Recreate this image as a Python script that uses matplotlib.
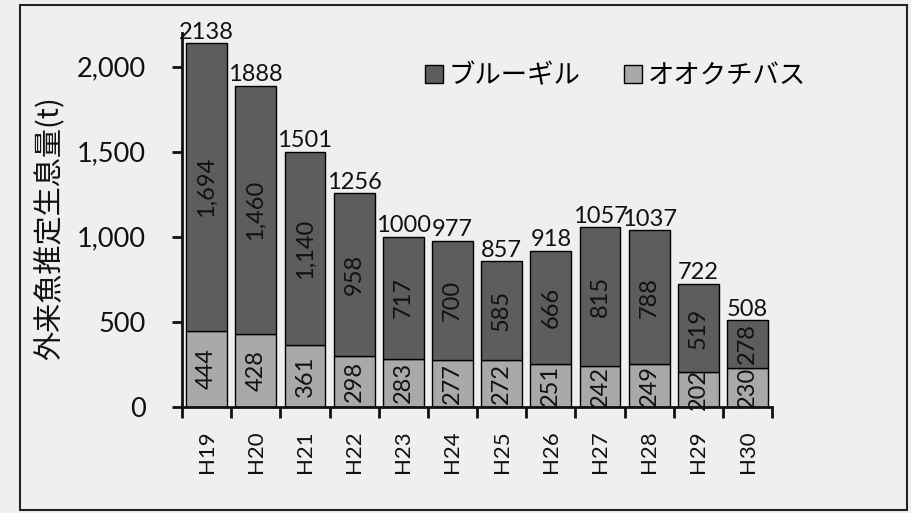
import numpy as np
import matplotlib.pyplot as plt
from matplotlib.patches import Rectangle
from matplotlib.lines import Line2D

plt.rcParams['font.family'] = ['Lato', 'Noto Sans CJK JP', 'DejaVu Sans']

# data
years = ['H19', 'H20', 'H21', 'H22', 'H23', 'H24', 'H25', 'H26', 'H27', 'H28', 'H29', 'H30']
bluegill = [1694, 1460, 1140, 958, 717, 700, 585, 666, 815, 788, 519, 278]
largemouth = [444, 428, 361, 298, 283, 277, 272, 251, 242, 249, 202, 230]
totals = [2138, 1888, 1501, 1256, 1000, 977, 857, 918, 1057, 1037, 722, 508]

dark = '#5d5d5d'
light = '#a9a9a9'
bg = '#efefef'

fig = plt.figure(figsize=(9.12, 5.13), dpi=100, facecolor=bg)
ax = fig.add_axes([0.1996, 0.2072, 0.647, 0.729])
ax.set_facecolor(bg)

x = np.arange(len(years))
ax.bar(x, largemouth, width=0.83, color=light, edgecolor='black', linewidth=1)
ax.bar(x, bluegill, width=0.83, bottom=largemouth, color=dark, edgecolor='black', linewidth=1)

# segment labels and totals
for i in range(len(years)):
    ax.text(x[i], largemouth[i] / 2, str(largemouth[i]), rotation=90,
            ha='center', va='center', fontsize=17, color='#111111')
    ax.text(x[i], largemouth[i] + bluegill[i] / 2, f'{bluegill[i]:,}', rotation=90,
            ha='center', va='center', fontsize=17, color='#111111')
    ax.text(x[i], totals[i] + 3, str(totals[i]), ha='center', va='bottom',
            fontsize=17, color='#111111')

ax.set_xlim(-0.5, len(years) - 0.5)
ax.set_ylim(0, 2200)
ax.set_yticks([0, 500, 1000, 1500, 2000])
ax.set_yticklabels(['0', '500', '1,000', '1,500', '2,000'], fontsize=19.5)
ax.tick_params(axis='y', length=7, width=2, pad=19, colors='#111111')

ax.set_xticks(x)
ax.set_xticklabels(years, rotation=90, fontsize=16)
ax.set_xticks(np.arange(-0.5, len(years)), minor=True)
ax.tick_params(axis='x', which='major', length=0, pad=17, colors='#111111')
ax.tick_params(axis='x', which='minor', length=8, width=2, colors='#111111')

for s in ['top', 'right']:
    ax.spines[s].set_visible(False)
for s in ['left', 'bottom']:
    ax.spines[s].set_linewidth(2)
    ax.spines[s].set_color('#111111')

fig.text(50 / 912, 1 - 228 / 513, '外来魚推定生息量(t)', rotation=90,
         ha='center', va='center', fontsize=21, color='#111111',
         family=['Noto Sans CJK JP', 'DejaVu Sans'])

handles = [Line2D([], [], marker='s', linestyle='none', markersize=13,
                  markerfacecolor=dark, markeredgecolor='black'),
           Line2D([], [], marker='s', linestyle='none', markersize=13,
                  markerfacecolor=light, markeredgecolor='black')]
fig.legend(handles, ['ブルーギル', 'オオクチバス'], loc='center left',
           bbox_to_anchor=(400 / 912, 1 - 76 / 513), ncol=2, frameon=False,
           handlelength=0.8, handletextpad=0.15, columnspacing=1.6,
           prop={'family': ['Noto Sans CJK JP'], 'size': 19})

# outer frame
fig.patches.append(Rectangle((20 / 912, 3 / 513), 887 / 912, 505 / 513,
                             transform=fig.transFigure, fill=False,
                             edgecolor='#222222', linewidth=1.5))

fig.savefig('out.png', dpi=100, facecolor=bg)
